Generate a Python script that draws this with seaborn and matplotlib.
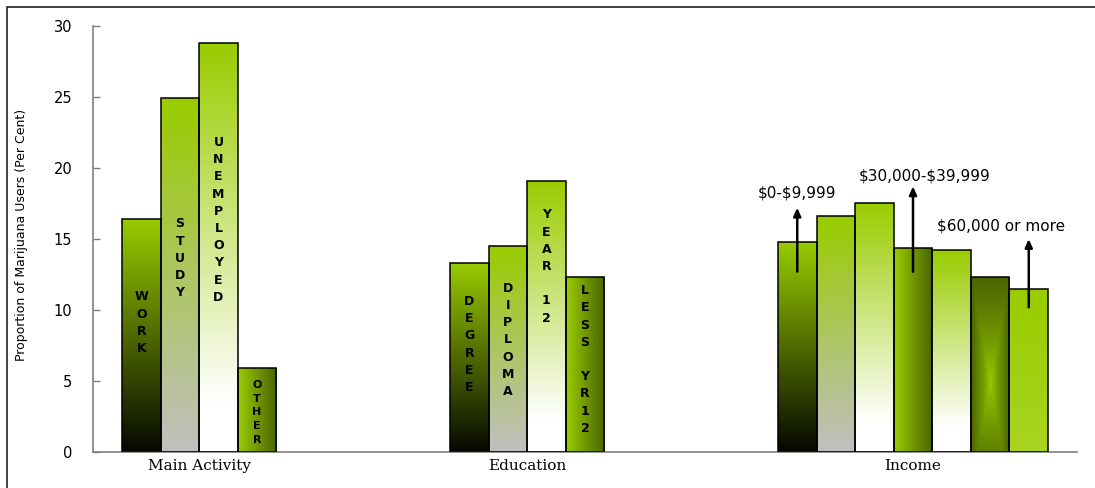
import numpy as np
import pandas as pd
import matplotlib
matplotlib.use("Agg")
import matplotlib.pyplot as plt
import seaborn as sns
from matplotlib.colors import to_rgb
from matplotlib.patches import Rectangle

# ---- data -------------------------------------------------------------
group_names = ["Main Activity", "Education", "Income"]

activity_labels = ["WORK", "STUDY", "UNEMPLOYED", "OTHER"]
activity_values = [16.4, 24.9, 28.8, 5.9]

education_labels = ["DEGREE", "DIPLOMA", "YEAR 12", "LESS YR12"]
education_values = [13.3, 14.5, 19.1, 12.3]

income_values = [14.8, 16.6, 17.5, 14.4, 14.2, 12.3, 11.5]

# income bands that carry a callout: (bar index, text, arrow tail, arrow tip)
income_callouts = [
    (0, "$0-$9,999", 12.7, 17.2),
    (3, "$30,000-$39,999", 12.7, 18.7),
    (6, "$60,000 or more", 10.2, 15.0),
]

# ---- layout / style ---------------------------------------------------
group_starts = [0.0, 8.5, 17.0]
fill_styles = [
    ["dark", "gray", "white", "side"],
    ["dark", "gray", "white", "side"],
    ["dark", "gray", "white", "side", "white", "rect", "solid"],
]
label_centers = [[9.11, 13.64, 16.34, 2.8], [7.58, 7.9, 13.07, 6.53]]
callout_text_pos = [(17.0, 18.2), (20.3, 19.4), (22.27, 15.9)]

rows = []
for g, (vals, start) in enumerate(zip([activity_values, education_values, income_values], group_starts)):
    for i, v in enumerate(vals):
        rows.append({"group": group_names[g], "pos": start + i, "value": v,
                     "fill": fill_styles[g][i]})
df = pd.DataFrame(rows)

GREEN = np.array(to_rgb("#99CC00"))
DARK_OLIVE = np.array(to_rgb("#4A6400"))


def gradient(kind, n=240, m=60):
    v = np.linspace(0, 1, n)[:, None] * np.ones((1, m))  # 0 top -> 1 bottom
    u = np.ones((n, 1)) * np.linspace(0, 1, m)[None, :]   # 0 left -> 1 right

    def lerp(c0, c1, t):
        t = np.clip(t, 0, 1)[..., None]
        return c0 * (1 - t) + c1 * t

    if kind == "dark":
        return lerp(GREEN, np.array([0.02, 0.03, 0.0]), v)
    if kind == "gray":
        return lerp(GREEN, np.array(to_rgb("#C0C0C0")), v)
    if kind == "white":
        return lerp(GREEN, np.ones(3), v / 0.88)
    if kind == "side":
        return lerp(GREEN, DARK_OLIVE, u)
    if kind == "rect":
        c = 0.6
        t = np.maximum(np.abs(u - 0.5) / 0.5, np.abs(v - c) / c)
        return lerp(GREEN, DARK_OLIVE, t ** 0.8)
    return lerp(GREEN, np.array(to_rgb("#A9D422")), v)


sns.set_theme(style="white")
plt.rcParams["font.family"] = ["DejaVu Sans"]

fig = plt.figure(figsize=(10.95, 4.88), dpi=100)
ax = fig.add_axes([93 / 1095, 35.7 / 488, 984 / 1095, 426.6 / 488])

sns.barplot(data=df, x="pos", y="value", native_scale=True, width=1.0,
            errorbar=None, color="#99CC00", edgecolor="black",
            linewidth=1.1, ax=ax)

# gradient fills clipped to each bar
for patch in ax.patches:
    x0, w, h = patch.get_x(), patch.get_width(), patch.get_height()
    centre = x0 + w / 2
    row = df.iloc[(df["pos"] - centre).abs().argmin()]
    img = ax.imshow(gradient(row["fill"]), extent=[x0, x0 + w, 0, h],
                    origin="upper", aspect="auto", interpolation="bilinear",
                    zorder=2)
    img.set_clip_path(patch)
    patch.set_facecolor("none")
    patch.set_zorder(3)

# stacked letters inside the first two groups
for g, labels in enumerate([activity_labels, education_labels]):
    for i, lab in enumerate(labels):
        small = lab == "OTHER"
        ax.text(group_starts[g] + i, label_centers[g][i], "\n".join(lab),
                ha="center", va="center", multialignment="center",
                fontsize=8 if small else 9, fontweight="bold",
                linespacing=1.45 if small else 1.42, color="black", zorder=4)

# income callouts
for (idx, text, tail, tip), (tx, ty) in zip(income_callouts, callout_text_pos):
    xb = group_starts[2] + idx
    ax.annotate("", xy=(xb, tip), xytext=(xb, tail),
                arrowprops=dict(arrowstyle="-|>,head_length=0.4,head_width=0.18",
                                color="black", lw=1.8, shrinkA=0, shrinkB=0),
                zorder=5)
    ax.text(tx, ty, text, ha="center", va="center", fontsize=11,
            color="black", zorder=5, parse_math=False)

# axes styling
ax.set_xlim(-1.25, 24.25)
ax.set_ylim(0, 30)
ax.set_yticks(range(0, 31, 5))
ax.tick_params(axis="y", direction="in", length=5, width=1, color="#808080",
               pad=15, labelsize=10.5, labelcolor="black", left=True)
centres = [group_starts[0] + 1.5, group_starts[1] + 1.5, group_starts[2] + 3]
ax.set_xticks(centres)
ax.set_xticklabels(group_names, family="DejaVu Serif", fontsize=11,
                   color="black")
ax.tick_params(axis="x", length=0, pad=5)
ax.set_xlabel("")
ax.set_ylabel("Proportion of Marijuana Users (Per Cent)", fontsize=9,
              color="black")
ax.yaxis.set_label_coords(-0.066, 0.51)
for side in ["top", "right"]:
    ax.spines[side].set_visible(False)
for side in ["left", "bottom"]:
    ax.spines[side].set_color("#808080")
    ax.spines[side].set_linewidth(1.2)
ax.grid(False)

# outer frame
fig.add_artist(Rectangle((7 / 1095, -0.1), 1.2, 1.1 - 7 / 488,
                         transform=fig.transFigure, fill=False,
                         edgecolor="#222222", linewidth=1.2))

fig.savefig("out.png", dpi=100)
